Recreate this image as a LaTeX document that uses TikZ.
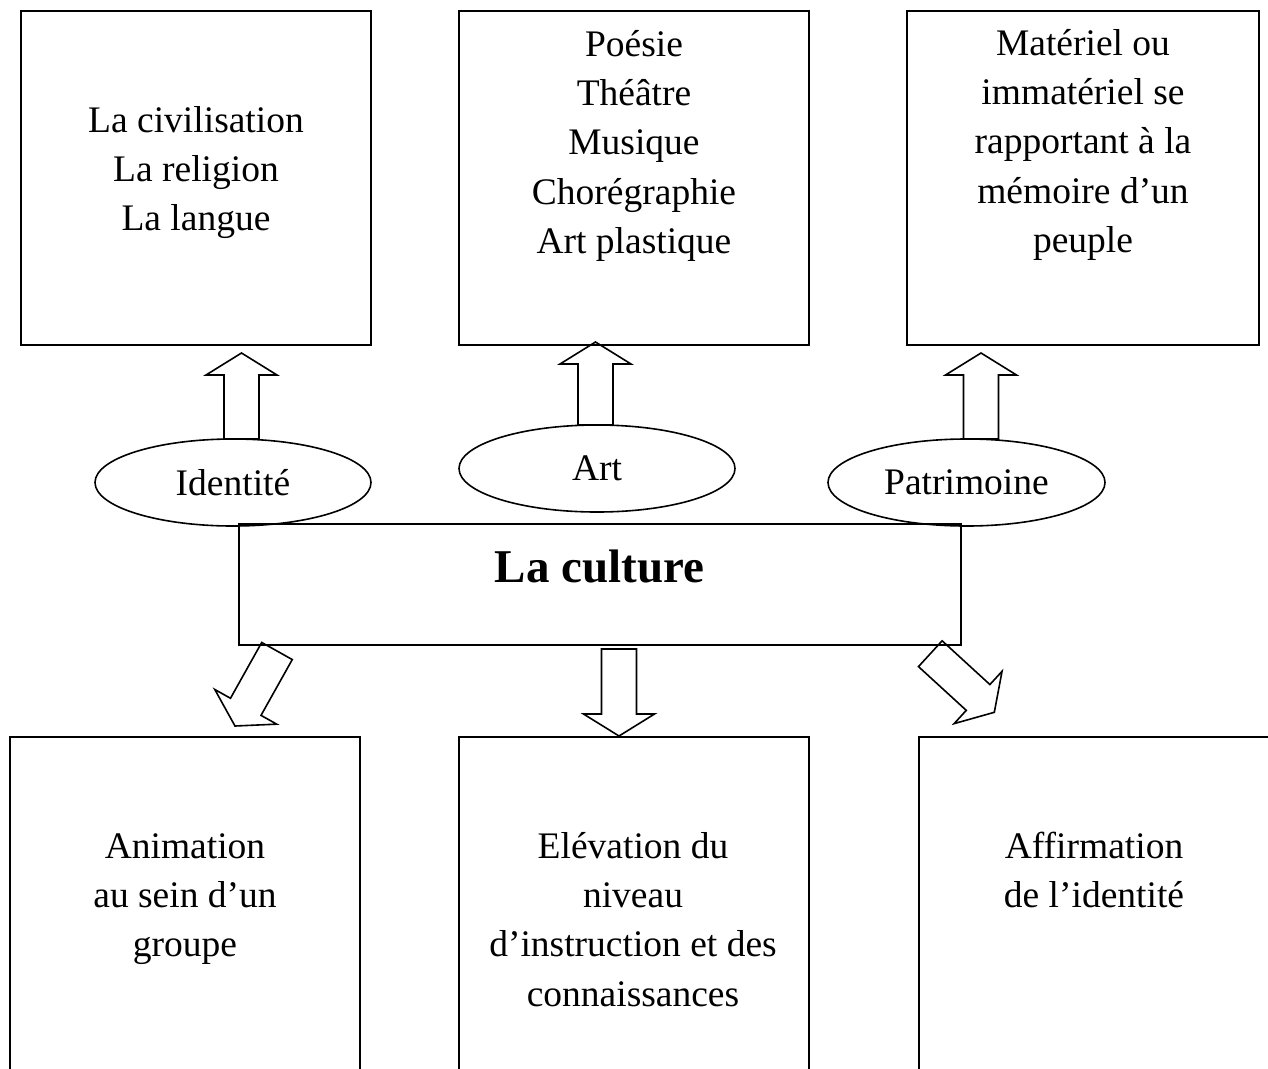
\documentclass[tikz,border=0pt]{standalone}
\usepackage{fontspec}
\setmainfont{Liberation Serif}
\usetikzlibrary{calc,shapes.geometric}
\newcommand\lstr{\rule[-0.25em]{0pt}{0.95em}}
\newcommand\blkarrow[2]{%
  \coordinate (bh) at ($(#2)!22pt!(#1)$);
  \draw[blk] ($(#1)!17.5pt!90:(#2)$) -- ($(bh)!17.5pt!90:(#2)$) -- ($(bh)!35.5pt!90:(#2)$) -- (#2)
    -- ($(bh)!35.5pt!-90:(#2)$) -- ($(bh)!17.5pt!-90:(#2)$) -- ($(#1)!17.5pt!-90:(#2)$) -- cycle;}
\begin{document}
\begin{tikzpicture}[x=1pt,y=-1pt,
  box/.style={draw, line width=1.6pt, rectangle, inner sep=0pt, outer sep=0pt},
  oval/.style={draw, line width=1.6pt, ellipse, inner sep=0pt, outer sep=0pt,
    minimum width=276pt, minimum height=87pt, font=\fontsize{37.5}{45}\selectfont},
  txt/.style={align=center, inner sep=0pt, anchor=north, font=\fontsize{37.5}{49.3}\selectfont},
  blk/.style={draw, line width=1.6pt, line join=miter}]
\useasboundingbox (0,0) rectangle (1268,1068);
\fill[white] (0,0) rectangle (1268,1068);
\clip (0,0) rectangle (1268,1068);

% top boxes
\node[box, minimum width=350pt, minimum height=334pt] (b1) at (196,178) {};
\node[box, minimum width=350pt, minimum height=334pt] (b2) at (634,178) {};
\node[box, minimum width=352pt, minimum height=334pt] (b3) at (1083,178) {};
% bottom boxes (run past the lower edge)
\node[box, minimum width=350pt, minimum height=363pt] (b4) at (185,918.5) {};
\node[box, minimum width=350pt, minimum height=363pt] (b5) at (634,918.5) {};
\node[box, minimum width=350pt, minimum height=363pt] (b6) at (1094,918.5) {};

% texts of boxes
\node[txt] (t1) at (196,105.75) {\lstr La civilisation\\ \lstr La religion\\ \lstr La langue};
\node[txt] (t2) at (634,29.75) {\lstr Poésie\\ \lstr Théâtre\\ \lstr Musique\\ \lstr Chorégraphie\\ \lstr Art plastique};
\node[txt] (t3) at (1083,28.75) {\lstr Matériel ou\\ \lstr immatériel se\\ \lstr rapportant à la\\ \lstr mémoire d’un\\ \lstr peuple};
\node[txt] (t4) at (185,831.75) {\lstr Animation\\ \lstr au sein d’un\\ \lstr groupe};
\node[txt] (t5) at (633,831.75) {\lstr Elévation du\\ \lstr niveau\\ \lstr d’instruction et des\\ \lstr connaissances};
\node[txt] (t6) at (1094,831.75) {\lstr Affirmation\\ \lstr de l’identité};

% ellipses
\node[oval] (id) at (233,482.5) {Identité};
\node[oval] (art) at (597,468.5) {Art};
\node[oval, minimum width=277pt] (pat) at (966.5,482.5) {Patrimoine};

% central box
\node[box, minimum width=722pt, minimum height=121pt] (cul) at (600,584.5) {};
\node[anchor=base, inner sep=0pt, font=\bfseries\fontsize{47}{56}\selectfont] (cult) at (599.5,582) {La culture};

% arrow end points
\coordinate (u1a) at ([xshift=8.5pt]id.north);
\coordinate (u1b) at ([yshift=-8pt]b1.south -| u1a);
\coordinate (u2a) at ([xshift=-1.5pt]art.north);
\coordinate (u2b) at ([yshift=3pt]b2.south -| u2a);
\coordinate (u3a) at ([xshift=14.5pt]pat.north);
\coordinate (u3b) at ([yshift=-8pt]b3.south -| u3a);
\coordinate (d1a) at ([xshift=38pt,yshift=-6pt]cul.south west);
\coordinate (d1b) at ([xshift=50pt,yshift=11pt]b4.north);
\coordinate (d2a) at ([xshift=19pt,yshift=-4pt]cul.south);
\coordinate (d2b) at ([xshift=-15pt,yshift=1pt]b5.north);
\coordinate (d3a) at ([xshift=-30.7pt,yshift=-8.7pt]cul.south east);
\coordinate (d3b) at ([xshift=-99.7pt,yshift=24.7pt]b6.north);

\blkarrow{u1a}{u1b}
\blkarrow{u2a}{u2b}
\blkarrow{u3a}{u3b}
\blkarrow{d1a}{d1b}
\blkarrow{d2a}{d2b}
\blkarrow{d3a}{d3b}
\end{tikzpicture}
\end{document}
